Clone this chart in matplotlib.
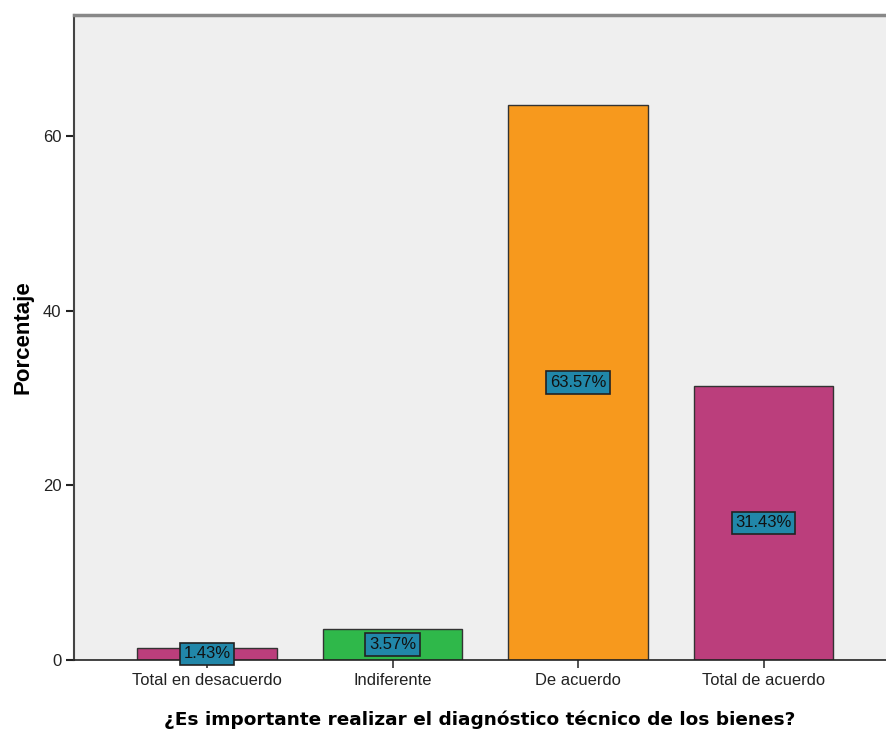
import matplotlib
matplotlib.use("Agg")
import matplotlib.pyplot as plt

categories = ["Total en desacuerdo", "Indiferente", "De acuerdo", "Total de acuerdo"]
values = [1.43, 3.57, 63.57, 31.43]
labels = ["1.43%", "3.57%", "63.57%", "31.43%"]
colors = ["#bb3e7c", "#2fb84a", "#f7991d", "#bb3e7c"]

fig = plt.figure(figsize=(8.86, 7.30), dpi=100)
ax = fig.add_axes([74/886, 70/730, 1 - 74/886, (660-15)/730])
ax.set_facecolor("#efefef")

arial = "Liberation Sans"

x = list(range(len(categories)))
ax.bar(x, values, width=0.75, color=colors, edgecolor="#333333", linewidth=1.0, zorder=2)
for xi, v, lab in zip(x, values, labels):
    ax.text(xi, v / 2, lab, ha="center", va="center", fontsize=12, family=arial,
            color="#111111", zorder=3,
            bbox=dict(boxstyle="square,pad=0.22", facecolor="#2187a9", edgecolor="#222222", linewidth=1.2))

ax.set_xlim(-0.717, 3.66)
ax.set_ylim(0, 73.9)
ax.set_yticks([0, 20, 40, 60])
ax.set_xticks(x)
ax.set_xticklabels(categories, fontsize=11.9, color="#222222", family=arial)
for t in ax.get_yticklabels():
    t.set_family(arial)
ax.tick_params(axis="y", labelsize=12, colors="#222222", length=6, width=1.5, direction="out", pad=3)
ax.tick_params(axis="x", length=6, width=1.2, direction="out", colors="#333333", labelcolor="#222222")

ax.spines["right"].set_visible(False)
ax.spines["top"].set_color("#888888")
ax.spines["top"].set_linewidth(2.5)
ax.spines["left"].set_color("#444444")
ax.spines["left"].set_linewidth(1.5)
ax.spines["bottom"].set_color("#222222")
ax.spines["bottom"].set_linewidth(1.2)

ax.set_ylabel("Porcentaje", fontsize=16, fontweight="bold", family=arial, labelpad=7)
ax.set_xlabel("¿Es importante realizar el diagnóstico técnico de los bienes?", fontsize=13.3,
              fontweight="bold", labelpad=16)

fig.savefig("out.png", dpi=100)
